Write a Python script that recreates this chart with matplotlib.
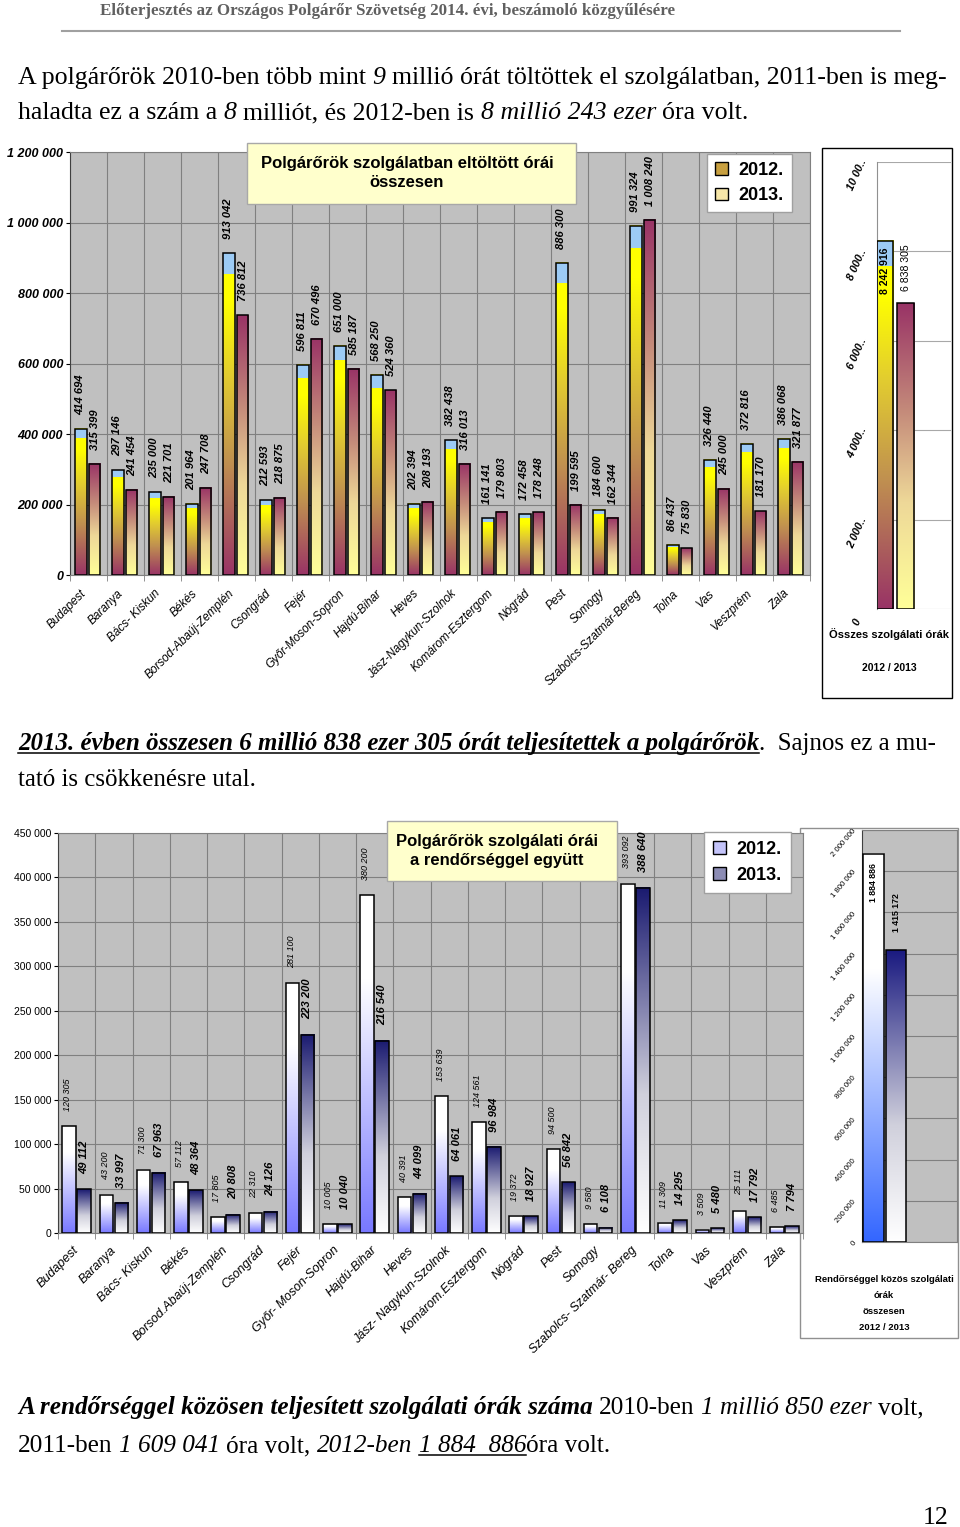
import numpy as np
import matplotlib
matplotlib.use('Agg')
import matplotlib.pyplot as plt
from matplotlib.colors import LinearSegmentedColormap
from matplotlib.patches import Rectangle
from matplotlib.lines import Line2D
from matplotlib.transforms import ScaledTranslation

plt.rcParams['font.family'] = ['Liberation Sans', 'DejaVu Sans']

# ---------------- data ----------------
counties1 = ["Budapest", "Baranya", "Bács- Kiskun", "Békés", "Borsod-Abaúj-Zemplén", "Csongrád",
             "Fejér", "Győr-Moson-Sopron", "Hajdú-Bihar", "Heves", "Jász-Nagykun-Szolnok",
             "Komárom-Esztergom", "Nógrád", "Pest", "Somogy", "Szabolcs-Szatmár-Bereg",
             "Tolna", "Vas", "Veszprém", "Zala"]
counties2 = ["Budapest", "Baranya", "Bács- Kiskun", "Békés", "Borsod.Abaúj-Zemplén", "Csongrád",
             "Fejér", "Győr- Moson-Sopron", "Hajdú-Bihar", "Heves", "Jász- Nagykun-Szolnok",
             "Komárom.Esztergom", "Nógrád", "Pest", "Somogy", "Szabolcs- Szatmár- Bereg",
             "Tolna", "Vas", "Veszprém", "Zala"]
hours_2012 = [414694, 297146, 235000, 201964, 913042, 212593, 596811, 651000, 568250, 202394,
              382438, 161141, 172458, 886300, 184600, 991324, 86437, 326440, 372816, 386068]
hours_2013 = [315399, 241454, 221701, 247708, 736812, 218875, 670496, 585187, 524360, 208193,
              316013, 179803, 178248, 199595, 162344, 1008240, 75830, 245000, 181170, 321877]
total_2012 = 8242916
total_2013 = 6838305
police_2012 = [120305, 43200, 71300, 57112, 17805, 22310, 281100, 10005, 380200, 40391,
               153639, 124561, 19372, 94500, 9580, 393092, 11309, 3509, 25111, 6485]
police_2013 = [49112, 33997, 67963, 48364, 20808, 24126, 223200, 10040, 216540, 44099,
               64061, 96984, 18927, 56842, 6108, 388640, 14295, 5480, 17792, 7794]
police_total_2012 = 1884886
police_total_2013 = 1415172
ticks1 = [0, 200000, 400000, 600000, 800000, 1000000, 1200000]
ticks_side1 = [0, 2000000, 4000000, 6000000, 8000000, 10000000]
ticks_side1_labels = ["0", "2 000..", "4 000..", "6 000..", "8 000..", "10 00.."]
ticks2 = list(range(0, 450001, 50000))
ticks_side2 = list(range(0, 2000001, 200000))
legend_labels = ["2012.", "2013."]

W, H = 960, 1527
fig = plt.figure(figsize=(W / 100, H / 100), dpi=100)
fig.patch.set_facecolor('white')


def fx(x):
    return x / W


def fy(y):
    return 1 - y / H


def ax_px(x0, y0, x1, y1):
    return fig.add_axes([x0 / W, 1 - y1 / H, (x1 - x0) / W, (y1 - y0) / H])


def fmt(v):
    return f"{int(v):,}".replace(",", " ")


cm_y12 = LinearSegmentedColormap.from_list('y12', [(0, '#993366'), (0.35, '#C09050'),
                                                    (0.62, '#E2CC30'), (0.85, '#FFFF00'), (1, '#FFFF00')])
cm_y13 = LinearSegmentedColormap.from_list('y13', [(0, '#FFFF99'), (0.35, '#EED898'),
                                                    (0.65, '#C48A7A'), (1, '#993366')])
cm_b12 = LinearSegmentedColormap.from_list('b12', [(0, '#7878FF'), (0.75, '#FFFFFF'), (1, '#FFFFFF')])
cm_b13 = LinearSegmentedColormap.from_list('b13', [(0, '#FFFFFF'), (0.4, '#D0D0DC'), (1, '#1A1A70')])
cm_s12 = LinearSegmentedColormap.from_list('s12', [(0, '#3366FF'), (0.7, '#FFFFFF'), (1, '#FFFFFF')])
cm_s13 = LinearSegmentedColormap.from_list('s13', [(0, '#FFFFFF'), (0.4, '#D0D0DC'), (1, '#1A1A80')])
grad = np.linspace(0, 1, 256).reshape(-1, 1)


def grad_bars(ax, bars, cmap, band=0.0, z=2):
    for p in bars:
        x0, y0, w, h = p.get_x(), p.get_y(), p.get_width(), p.get_height()
        ax.imshow(grad, extent=[x0, x0 + w, y0, y0 + h], origin='lower', aspect='auto',
                  cmap=cmap, zorder=z, interpolation='bilinear')
        if band > 0:
            ax.add_patch(Rectangle((x0, y0 + h * (1 - band)), w, h * band, facecolor='#9CCBF5',
                                   edgecolor='none', zorder=z + 0.5))
        p.set_facecolor('none')
        p.set_zorder(z + 1)


def style_gray_axes(ax):
    ax.set_facecolor('#C0C0C0')
    for s in ax.spines.values():
        s.set_color('#808080')
        s.set_linewidth(0.8)
    ax.spines['left'].set_color('#404040')
    ax.set_axisbelow(True)


# ---------------- chart 1 ----------------
ax1 = ax_px(70, 152, 810, 575)
style_gray_axes(ax1)
x = np.arange(len(counties1))
b12 = ax1.bar(x - 0.2, hours_2012, width=0.31, edgecolor='black', linewidth=1.1)
b13 = ax1.bar(x + 0.16, hours_2013, width=0.31, edgecolor='black', linewidth=1.1)
grad_bars(ax1, b12, cm_y12, band=0.065)
grad_bars(ax1, b13, cm_y13)
ax1.set_xlim(-0.5, len(counties1) - 0.5)
ax1.set_ylim(0, 1200000)
ax1.set_yticks(ticks1, [fmt(t) for t in ticks1], fontsize=9, fontweight='bold', fontstyle='italic')
ax1.set_xticks(x, counties1, rotation=45, ha='right', rotation_mode='anchor', fontsize=8.5,
               fontstyle='italic')
ax1.set_xticks(np.arange(-0.5, len(counties1), 1), minor=True)
ax1.grid(axis='y', which='major', color='#808080', lw=0.8)
ax1.grid(axis='x', which='minor', color='#808080', lw=0.8)
ax1.tick_params(axis='x', which='major', length=0, pad=9)
ax1.tick_params(axis='x', which='minor', length=4, color='#808080')
ax1.tick_params(axis='y', length=3, pad=2)
for lab in ax1.get_xticklabels():
    lab.set_transform(lab.get_transform() + ScaledTranslation(-6 / 72, 0, fig.dpi_scale_trans))
for bars, dx in ((b12, -1), (b13, 0.5)):
    for p in bars:
        ax1.annotate(fmt(p.get_height()), (p.get_x() + p.get_width() / 2, p.get_height()),
                     xytext=(dx, 10), textcoords='offset points', rotation=90, ha='center',
                     va='bottom', fontsize=8, fontweight='bold', fontstyle='italic')

# title box 1
fig.add_artist(Rectangle((fx(247), fy(204)), fx(576) - fx(247), fy(143) - fy(204),
                         transform=fig.transFigure, facecolor='#FFFFCC', edgecolor='#A8A8A8',
                         lw=1, zorder=5))
fig.text(fx(407), fy(173), "Polgárőrök szolgálatban eltöltött órái\nösszesen", ha='center',
         va='center', fontsize=12, fontweight='bold', linespacing=1.3, zorder=6)

h1 = [Rectangle((0, 0), 1, 1, facecolor='#C8A040', edgecolor='black', lw=1),
      Rectangle((0, 0), 1, 1, facecolor='#F6E6A8', edgecolor='black', lw=1)]
leg1 = fig.legend(h1, legend_labels, loc='upper left', bbox_to_anchor=(fx(707), fy(154)),
                  bbox_transform=fig.transFigure, fancybox=False, framealpha=1, edgecolor='#A0A0A0',
                  prop={'size': 13, 'weight': 'bold'}, handlelength=0.7, handleheight=0.7,
                  handletextpad=0.6, labelspacing=0.45, borderpad=0.45, borderaxespad=0)

# side chart 1
fig.add_artist(Rectangle((fx(822), fy(698)), fx(952) - fx(822), fy(148) - fy(698),
                         transform=fig.transFigure, facecolor='white', edgecolor='black', lw=1,
                         zorder=-1))
as1 = ax_px(877, 162, 951, 609)
as1.set_facecolor('white')
for k in ('top', 'right', 'bottom'):
    as1.spines[k].set_visible(False)
as1.spines['left'].set_color('#909090')
as1.set_axisbelow(True)
sb12 = as1.bar([0.11], [total_2012], width=0.22, edgecolor='black', linewidth=1.1)
sb13 = as1.bar([0.385], [total_2013], width=0.24, edgecolor='black', linewidth=1.1)
grad_bars(as1, sb12, cm_y12, band=0.068)
grad_bars(as1, sb13, cm_y13)
as1.set_xlim(0, 1)
as1.set_ylim(0, 10000000)
as1.set_xticks([])
as1.set_yticks(ticks_side1, ticks_side1_labels, rotation=66, ha='center', va='center',
               fontsize=7.8, fontweight='bold', fontstyle='italic')
as1.tick_params(axis='y', length=0, pad=17)
for lab in as1.get_yticklabels():
    lab.set_transform(lab.get_transform() + ScaledTranslation(0.04, -0.13, fig.dpi_scale_trans))
as1.grid(axis='y', color='#A8A8A8', lw=0.8)
p = sb12[0]
as1.annotate(fmt(total_2012), (p.get_x() + p.get_width() / 2, p.get_height()), xytext=(0, -5),
             textcoords='offset points', rotation=90, ha='center', va='top', fontsize=7.6,
             fontweight='bold', zorder=10)
p = sb13[0]
as1.annotate(fmt(total_2013), (p.get_x() + p.get_width() / 2, p.get_height()), xytext=(0.5, 9),
             textcoords='offset points', rotation=90, ha='center', va='bottom', fontsize=7.6,
             zorder=10)
fig.text(fx(889), fy(634), "Összes szolgálati órák", ha='center', va='center', fontsize=8,
         fontweight='bold')
fig.text(fx(889), fy(668), "2012 / 2013", ha='center', va='center', fontsize=7.5,
         fontweight='bold')

# ---------------- chart 2 ----------------
ax2 = ax_px(58, 833, 803, 1233)
style_gray_axes(ax2)
x2 = np.arange(len(counties2))
c12 = ax2.bar(x2 - 0.2, police_2012, width=0.36, edgecolor='black', linewidth=1.1)
c13 = ax2.bar(x2 + 0.2, police_2013, width=0.36, edgecolor='black', linewidth=1.1)
grad_bars(ax2, c12, cm_b12)
grad_bars(ax2, c13, cm_b13)
ax2.set_xlim(-0.5, len(counties2) - 0.5)
ax2.set_ylim(0, 450000)
ax2.set_yticks(ticks2, [fmt(t) for t in ticks2], fontsize=7.5)
ax2.set_xticks(x2, counties2, rotation=45, ha='right', rotation_mode='anchor', fontsize=9,
               fontstyle='italic')
ax2.set_xticks(np.arange(-0.5, len(counties2), 1), minor=True)
ax2.grid(axis='y', which='major', color='#808080', lw=0.8)
ax2.grid(axis='x', which='minor', color='#808080', lw=0.8)
ax2.tick_params(axis='x', which='major', length=0, pad=8)
ax2.tick_params(axis='x', which='minor', length=4, color='#808080')
ax2.tick_params(axis='y', length=3, pad=2)
for lab in ax2.get_xticklabels():
    lab.set_transform(lab.get_transform() + ScaledTranslation(-3 / 72, 0, fig.dpi_scale_trans))
for p in c12:
    ax2.annotate(fmt(p.get_height()), (p.get_x() + p.get_width() / 2, p.get_height()),
                 xytext=(-1, 11), textcoords='offset points', rotation=90, ha='center',
                 va='bottom', fontsize=6.5, fontstyle='italic')
for p in c13:
    ax2.annotate(fmt(p.get_height()), (p.get_x() + p.get_width() / 2, p.get_height()),
                 xytext=(0, 11), textcoords='offset points', rotation=90, ha='center',
                 va='bottom', fontsize=8, fontweight='bold', fontstyle='italic')

fig.add_artist(Rectangle((fx(387), fy(881)), fx(617) - fx(387), fy(821) - fy(881),
                         transform=fig.transFigure, facecolor='#FFFFCC', edgecolor='#A8A8A8',
                         lw=1, zorder=5))
fig.text(fx(497), fy(851), "Polgárőrök szolgálati órái\na rendőrséggel együtt", ha='center',
         va='center', fontsize=12, fontweight='bold', linespacing=1.35, zorder=6)

h2 = [Rectangle((0, 0), 1, 1, facecolor='#C4C4FA', edgecolor='black', lw=1),
      Rectangle((0, 0), 1, 1, facecolor='#8C8CB4', edgecolor='black', lw=1)]
leg2 = fig.legend(h2, legend_labels, loc='upper left', bbox_to_anchor=(fx(704), fy(832)),
                  bbox_transform=fig.transFigure, fancybox=False, framealpha=1, edgecolor='#A0A0A0',
                  prop={'size': 13, 'weight': 'bold'}, handlelength=0.7, handleheight=0.7,
                  handletextpad=0.6, labelspacing=0.5, borderpad=0.5, borderaxespad=0)

# side chart 2
fig.add_artist(Rectangle((fx(800), fy(1338)), fx(958) - fx(800), fy(828) - fy(1338),
                         transform=fig.transFigure, facecolor='white', edgecolor='#909090', lw=1,
                         zorder=-1))
as2 = ax_px(862, 830, 957, 1242)
style_gray_axes(as2)
sc12 = as2.bar([0.12], [police_total_2012], width=0.22, edgecolor='black', linewidth=1.1)
sc13 = as2.bar([0.358], [police_total_2013], width=0.21, edgecolor='black', linewidth=1.1)
grad_bars(as2, sc12, cm_s12)
grad_bars(as2, sc13, cm_s13)
as2.set_xlim(0, 1)
as2.set_ylim(0, 2000000)
as2.set_xticks([])
as2.set_yticks(ticks_side2, [fmt(t) for t in ticks_side2], rotation=50, ha='right',
               rotation_mode='anchor', va='center', fontsize=5.6)
as2.tick_params(axis='y', length=0, pad=5)
as2.grid(axis='y', color='#808080', lw=0.8)
p = sc12[0]
as2.annotate(fmt(police_total_2012), (p.get_x() + p.get_width() / 2, p.get_height()),
             xytext=(0, -7), textcoords='offset points', rotation=90, ha='center', va='top',
             fontsize=6.3, fontweight='bold', zorder=10)
p = sc13[0]
as2.annotate(fmt(police_total_2013), (p.get_x() + p.get_width() / 2, p.get_height()),
             xytext=(0, 13), textcoords='offset points', rotation=90, ha='center', va='bottom',
             fontsize=6.3, fontweight='bold', zorder=10)
for yy, s in zip([1280, 1296, 1312, 1328],
                 ["Rendőrséggel közös szolgálati", "órák", "összesen", "2012 / 2013"]):
    fig.text(fx(884), fy(yy), s, ha='center', va='center', fontsize=6.8, fontweight='bold')

# ---------------- document text ----------------
renderer = fig.canvas.get_renderer()
SERIF = ['Liberation Serif', 'DejaVu Serif']


def kw_for(st, size, color):
    return dict(fontsize=size, family=SERIF, color=color,
                fontstyle='italic' if 'i' in st else 'normal',
                fontweight='bold' if 'b' in st else 'normal')


def text_w(s, kw):
    t = fig.text(0, 0, '|' + s + '|', **kw)
    w1 = t.get_window_extent(renderer).width
    t.remove()
    t = fig.text(0, 0, '||', **kw)
    w2 = t.get_window_extent(renderer).width
    t.remove()
    return w1 - w2


def line_width(pieces, size):
    return sum(text_w(s, kw_for(st, size, 'k')) for s, st in pieces)


def rich_line(x, y, pieces, size, color='black'):
    cx = x
    for s, st in pieces:
        kw = kw_for(st, size, color)
        sp = text_w(' ', kw)
        lead = len(s) - len(s.lstrip(' '))
        trail = len(s) - len(s.rstrip(' '))
        core = s.strip(' ')
        cx += lead * sp
        w = text_w(core, kw)
        fig.text(fx(cx), fy(y), core, ha='left', va='baseline', **kw)
        if 'u' in st:
            fig.add_artist(Line2D([fx(cx), fx(cx + w)], [fy(y + 3)] * 2, color=color, lw=1.1,
                                  transform=fig.transFigure))
        cx += w + trail * sp


def fit(pieces, target):
    return 10 * target / line_width(pieces, 10)


header = [("Előterjesztés az Országos Polgárőr Szövetség 2014. évi, beszámoló közgyűlésére", 'b')]
hs = fit(header, 577)
rich_line(100, 15, header, hs, color='#606060')
fig.add_artist(Line2D([fx(62), fx(900)], [fy(31)] * 2, color='#A0A0A0', lw=1.5,
                      transform=fig.transFigure))

p1a = [("A polgárőrök 2010-ben több mint ", ''), ("9", 'i'),
       (" millió órát töltöttek el szolgálatban, 2011-ben is meg-", '')]
p1b = [("haladta ez a szám a ", ''), ("8", 'i'), (" milliót, és 2012-ben is ", ''),
       ("8 millió 243 ezer", 'i'), (" óra volt.", '')]
s1 = fit(p1a, 927)
rich_line(18, 84, p1a, s1)
rich_line(18, 119, p1b, s1)

p2a = [("2013. évben összesen 6 millió 838 ezer 305 órát teljesítettek a polgárőrök", 'biu'),
       (".  Sajnos ez a mu-", '')]
p2b = [("tató is csökkenésre utal.", '')]
s2 = fit(p2a, 922)
rich_line(18, 750, p2a, s2)
rich_line(18, 786, p2b, s2)

p3a = [("A rendőrséggel közösen teljesített szolgálati órák száma", 'bi'), (" 2010-ben ", ''),
       ("1 millió 850 ezer", 'i'), (" volt,", '')]
p3b = [("2011-ben ", ''), ("1 609 041", 'i'), (" óra volt, ", ''), ("2012-ben ", 'i'),
       ("1 884  886", 'iu'), ("óra volt.", '')]
s3 = fit(p3a, 907)
rich_line(18, 1414, p3a, s3)
rich_line(18, 1452, p3b, s3)

fig.text(fx(948), fy(1524), "12", ha='right', va='baseline', fontsize=s1, family=SERIF)

fig.savefig('out.png', dpi=100, facecolor='white')
